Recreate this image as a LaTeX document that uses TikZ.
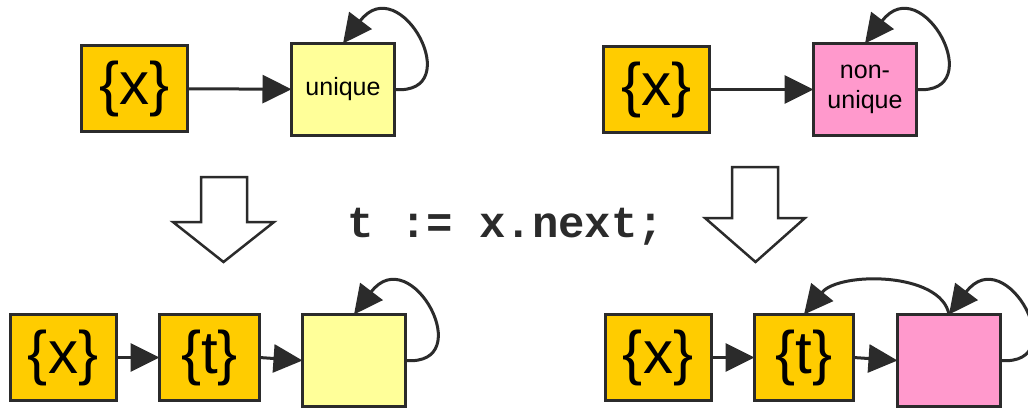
\documentclass[tikz,border=0pt]{standalone}
\usepackage{fontspec}
\setmainfont{Liberation Sans}
\setmonofont{Liberation Mono}
\usetikzlibrary{arrows.meta}
\definecolor{orangebox}{HTML}{FFCC00}
\definecolor{yellowbox}{HTML}{FFFF99}
\definecolor{pinkbox}{HTML}{FF99CC}
\definecolor{ink}{HTML}{2B2B2B}
\tikzset{
  box/.style={draw=ink, line width=3pt, inner sep=0pt, outer sep=0pt},
  varbox/.style={box, fill=orangebox, minimum width=106pt, minimum height=86pt, font=\fontsize{60}{60}\selectfont},
  objbox/.style={box, minimum width=103pt, minimum height=92pt, font=\fontsize{25}{30}\selectfont, align=center},
  link/.style={draw=ink, line width=3pt, -{Triangle[length=29pt,width=28pt]}},
  hollow/.style={draw=ink, line width=2.5pt, fill=white, line join=miter},
  code/.style={font=\fontsize{44}{44}\selectfont\ttfamily\bfseries, text=ink, inner sep=0pt}
}
\begin{document}
\begin{tikzpicture}[x=1pt,y=-1pt]
\useasboundingbox (0,0) rectangle (1028,409);
% top left
\node[varbox] (x1) at (134.5,88.5) {\{x\}};
\node[objbox, fill=yellowbox] (u1) at (343,89.5) {unique};
\draw[link] (x1) -- (u1);
\draw[link] (u1.east) .. controls +(74,6) and +(57,-75) .. (u1.north);
% top right
\node[varbox] (x2) at (656.5,89.5) {\{x\}};
\node[objbox, fill=pinkbox] (n1) at (865,89.5) {non-\\unique};
\draw[link] (x2) -- (n1);
\draw[link] (n1.east) .. controls +(74,6) and +(57,-75) .. (n1.north);
% hollow arrows
\draw[hollow] (201,177) -- (247,177) -- (247,222) -- (274,222) -- (223.5,262) -- (173,222) -- (201,222) -- cycle;
\draw[hollow] (732,167) -- (778,167) -- (778,218) -- (805,218) -- (755.5,262) -- (705,218) -- (732,218) -- cycle;
% code
\node[code, anchor=base west] (c) at (347,237) {t := x.next;};
% bottom left
\node[varbox] (x3) at (63,357.5) {\{x\}};
\node[varbox, minimum width=100pt] (t3) at (209.5,357.5) {\{t\}};
\node[objbox, fill=yellowbox] (u2) at (354,360.5) {};
\draw[link] (x3) -- (t3);
\draw[link] (t3.east) -- (u2.west);
\draw[link] (u2.east) .. controls +(74,6) and +(57,-75) .. (u2.north);
% bottom right
\node[varbox] (x4) at (658,357.5) {\{x\}};
\node[varbox, minimum width=99pt] (t4) at (804,357.5) {\{t\}};
\node[objbox, fill=pinkbox] (n2) at (949,360.5) {};
\draw[link] (x4) -- (t4);
\draw[link] (t4.east) -- (n2.west);
\draw[link] (n2.east) .. controls +(74,6) and +(57,-75) .. (n2.north);
\draw[link] (n2.north) .. controls +(-8,-43) and +(35,-43) .. (t4.north);
\end{tikzpicture}
\end{document}
